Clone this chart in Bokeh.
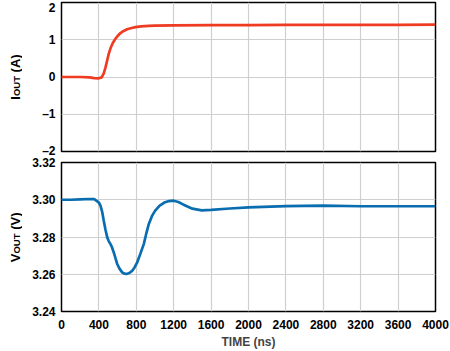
import math
from bokeh.plotting import figure
from bokeh.layouts import column, row
from bokeh.models import FixedTicker, Label, Range1d
from bokeh.embed import file_html
from bokeh.resources import INLINE

# ---- data ----
t_i = [0, 100, 200, 300, 350, 400, 430, 452, 470, 489, 505, 524, 550, 578, 600, 631, 660, 702,
       750, 791, 850, 934, 1000, 1200, 1600, 2000, 2400, 2800, 3200, 3600, 4000]
i_out = [0.0, 0.0, 0.0, -0.01, -0.03, -0.035, -0.01, 0.10, 0.25, 0.45, 0.62, 0.77, 0.92, 1.03,
         1.10, 1.18, 1.23, 1.28, 1.315, 1.34, 1.36, 1.375, 1.38, 1.385, 1.39, 1.395, 1.40, 1.40,
         1.40, 1.40, 1.405]

t_v = [0, 100, 200, 300, 350, 400, 417, 435, 452, 470, 489, 505, 524, 540, 559, 578, 596, 620,
       649, 675, 702, 730, 756, 780, 810, 845, 880, 905, 934, 970, 1000, 1050, 1100, 1150, 1200,
       1250, 1300, 1400, 1500, 1600, 1800, 2000, 2400, 2800, 3200, 3600, 4000]
v_out = [3.3000, 3.3000, 3.3002, 3.3004, 3.3003, 3.2985, 3.2968, 3.2935, 3.2887, 3.2840, 3.2798,
         3.2778, 3.2762, 3.2745, 3.2717, 3.2685, 3.2655, 3.2630, 3.2610, 3.2603, 3.2602, 3.2608,
         3.2619, 3.2635, 3.2664, 3.2712, 3.2762, 3.2815, 3.2870, 3.2915, 3.2940, 3.2968, 3.2985,
         3.2993, 3.2995, 3.2988, 3.2975, 3.2952, 3.2943, 3.2946, 3.2953, 3.2959, 3.2966, 3.2968,
         3.2965, 3.2965, 3.2965]

x_ticks = [0, 400, 800, 1200, 1600, 2000, 2400, 2800, 3200, 3600, 4000]
i_ticks = [-2, -1, 0, 1, 2]
i_tick_labels = ["\u20132", "\u20131", "0", "1", "2"]
v_ticks = [3.24, 3.26, 3.28, 3.30, 3.32]
v_tick_labels = ["3.24", "3.26", "3.28", "3.30", "3.32"]

FONT = "Liberation Sans"
RED = "#ee3b22"
BLUE = "#0a6db0"
LABEL_W = 22


def style(p):
    p.outline_line_color = "black"
    p.outline_line_width = 1.5
    p.background_fill_color = "white"
    p.border_fill_color = "white"
    for ax in p.axis:
        ax.axis_line_color = None
        ax.major_tick_line_color = None
        ax.minor_tick_line_color = None
        ax.major_tick_out = 0
        ax.major_tick_in = 0
        ax.minor_tick_out = 0
        ax.major_label_text_font = FONT
        ax.major_label_text_font_style = "bold"
        ax.major_label_text_font_size = "12px"
        ax.major_label_text_color = "black"
    p.yaxis.major_label_standoff = 6
    p.xgrid.grid_line_color = "#cfcfcf"
    p.ygrid.grid_line_color = "#cfcfcf"
    p.xgrid.grid_line_width = 1.2
    p.ygrid.grid_line_width = 1.2


# narrow figure holding the rotated y-axis titles (with subscripts)
lab = figure(width=LABEL_W, height=351, output_backend="svg", toolbar_location=None,
             x_range=Range1d(0, LABEL_W), y_range=Range1d(351, 0),
             x_axis_type=None, y_axis_type=None, min_border=0)
lab.outline_line_color = None
lab.grid.visible = False


def ylabel(ymid, main, sub, tail):
    fs_main, fs_sub = 13, 9.5
    w_main = (0.278 if main == "I" else 0.667) * fs_main
    w_sub = 2.111 * fs_sub
    w_space = 0.278 * fs_main
    w_tail = (0.333 + 0.722 + 0.333) * fs_main
    total = w_main + w_sub + w_space + w_tail
    start = -total / 2
    pieces = [(main, fs_main, start, 0), (sub, fs_sub, start + w_main, 0.5),
              (tail, fs_main, start + w_main + w_sub + w_space, 0)]
    for txt, fs, off, dx in pieces:
        lab.add_layout(Label(x=15 + dx, y=ymid, y_offset=off, text=txt, angle=math.pi / 2,
                             text_font=FONT, text_font_style="bold",
                             text_font_size=f"{fs}px", text_align="left",
                             text_baseline="alphabetic", text_color="black"))


ylabel(76.5, "I", "OUT", "(A)")
ylabel(236.5, "V", "OUT", "(V)")

top = figure(width=450 - LABEL_W, height=157, frame_width=374, frame_height=149,
             output_backend="svg", toolbar_location=None,
             x_range=Range1d(0, 4000), y_range=Range1d(-2, 2),
             min_border_left=61 - LABEL_W, min_border_right=15, min_border_top=2,
             min_border_bottom=6)
top.line(t_i, i_out, line_color=RED, line_width=2.7)
top.xaxis.visible = False
top.xaxis.ticker = FixedTicker(ticks=x_ticks)
top.yaxis.ticker = FixedTicker(ticks=i_ticks)
top.yaxis.major_label_overrides = dict(zip(i_ticks, i_tick_labels))
style(top)

bot = figure(width=450 - LABEL_W, height=194, frame_width=374, frame_height=149,
             output_backend="svg", toolbar_location=None,
             x_range=top.x_range, y_range=Range1d(3.24, 3.32),
             min_border_left=61 - LABEL_W, min_border_right=15, min_border_top=5,
             min_border_bottom=40)
bot.line(t_v, v_out, line_color=BLUE, line_width=2.7)
bot.xaxis.ticker = FixedTicker(ticks=x_ticks)
bot.yaxis.ticker = FixedTicker(ticks=v_ticks)
bot.yaxis.major_label_overrides = dict(zip(v_ticks, v_tick_labels))
bot.xaxis.axis_label = "TIME (ns)"
bot.xaxis.axis_label_text_font = FONT
bot.xaxis.axis_label_text_font_style = "bold"
bot.xaxis.axis_label_text_font_size = "12px"
style(bot)
bot.xaxis.major_label_standoff = 8
bot.xaxis.axis_label_standoff = 3

layout = row(lab, column(top, bot, spacing=0), spacing=0)
open("out.html", "w").write(file_html(layout, INLINE))
